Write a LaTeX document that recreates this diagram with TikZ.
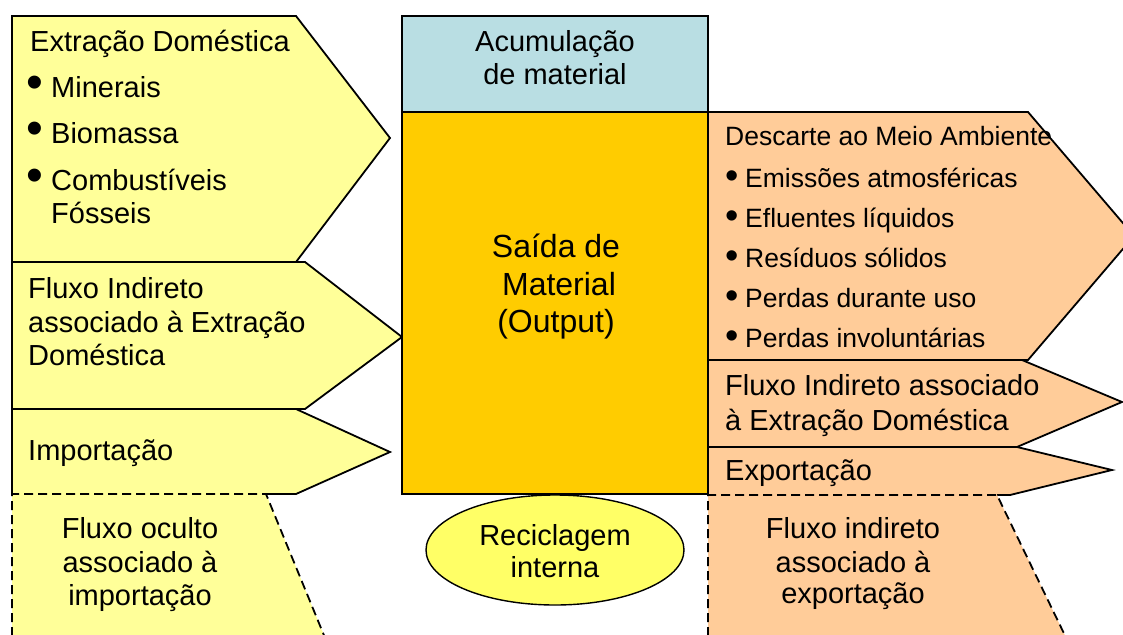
\documentclass[tikz,border=0pt]{standalone}
\usepackage{fontspec}
\setmainfont{Liberation Sans}
\usetikzlibrary{shapes.geometric}
\definecolor{ylw}{RGB}{255,255,153}
\definecolor{peach}{RGB}{255,204,153}
\definecolor{gold}{RGB}{255,204,0}
\definecolor{accblue}{RGB}{185,222,227}
\definecolor{ellfill}{RGB}{255,255,102}
\begin{document}
\begin{tikzpicture}[x=1pt,y=-1pt,line join=miter,
  edge/.style={draw=black,line width=1.8pt},
  dashedge/.style={draw=black,line width=1.8pt,dash pattern=on 9pt off 5pt},
  tx/.style={inner sep=0pt,anchor=base west,font=\fontsize{29}{33}\selectfont},
  txc/.style={inner sep=0pt,anchor=base,font=\fontsize{29}{33}\selectfont},
  txs/.style={inner sep=0pt,anchor=base west,font=\fontsize{26.5}{30}\selectfont},
  txb/.style={inner sep=0pt,anchor=base,font=\fontsize{32}{36}\selectfont},
  bulL/.style={inner sep=0pt,anchor=base west,font=\fontsize{48}{48}\selectfont},
  bulR/.style={inner sep=0pt,anchor=base west,font=\fontsize{38}{38}\selectfont}]
\useasboundingbox (0,0) rectangle (1123,634);
\clip (0,0) rectangle (1123,634);
% ---------- left column ----------
\path[fill=ylw,edge] (12,16) -- (296,16) -- (390,138) -- (296,262) -- (12,262) -- cycle;
\path[fill=ylw,edge] (12,262) -- (305,262) -- (402,337) -- (305,409) -- (12,409) -- cycle;
\path[fill=ylw] (12,409) -- (296,409) -- (390,452) -- (296,494) -- (12,494) -- cycle;
\path[edge] (266,494) -- (296,494) -- (390,452) -- (296,409) -- (12,409) -- (12,494);
\path[fill=ylw] (12,494) -- (266,494) -- (330,650) -- (12,650) -- cycle;
\path[dashedge] (12,650) -- (12,494) -- (266,494) -- (330,650);
% ---------- centre ----------
\path[fill=accblue,edge] (402,16) rectangle (708,112);
\path[fill=gold,edge] (402,112) rectangle (708,494);
\node[draw=black,line width=1.4pt,fill=ellfill,ellipse,minimum width=258pt,minimum height=110pt,inner sep=0pt] (recic) at (555,550) {};
% ---------- right column ----------
\path[fill=peach,edge] (708,112) -- (1028,112) -- (1134,236) -- (1028,360) -- (708,360) -- cycle;
\path[fill=peach,edge] (708,360) -- (1022,360) -- (1122,402) -- (1017,447) -- (708,447) -- cycle;
\path[fill=peach] (708,447) -- (1017,447) -- (1112,470) -- (1010,495) -- (708,495) -- cycle;
\path[edge] (997,495) -- (1010,495) -- (1112,470) -- (1017,447) -- (708,447) -- (708,495);
\path[fill=peach] (708,495) -- (997,495) -- (1072,650) -- (708,650) -- cycle;
\path[dashedge] (708,650) -- (708,495) -- (997,495) -- (1072,650);
% ---------- texts left ----------
\node[tx] (ed) at (30,52) {Extração Doméstica};
\node[bulL] (b1) at (26,98) {•};
\node[tx] (ed1) at (51,97) {Minerais};
\node[bulL] (b2) at (26,144) {•};
\node[tx] (ed2) at (51,143) {Biomassa};
\node[bulL] (b3) at (26,191) {•};
\node[tx] (ed3) at (51,190) {Combustíveis};
\node[tx] (ed4) at (51,223) {Fósseis};
\node[tx] (fi1) at (28,298) {Fluxo Indireto};
\node[tx] (fi2) at (28,332) {associado à Extração};
\node[tx] (fi3) at (28,365) {Doméstica};
\node[tx] (imp) at (28,460) {Importação};
\node[txc] (fo1) at (140,538) {Fluxo oculto};
\node[txc] (fo2) at (140,572) {associado à};
\node[txc] (fo3) at (140,605) {importação};
% ---------- texts centre ----------
\node[txc] (ac1) at (555,52) {Acumulação};
\node[txc] (ac2) at (555,84) {de material};
\node[txb] (sm1) at (556,257) {Saída de};
\node[txb] (sm2) at (559,295) {Material};
\node[txb] (sm3) at (556,332) {(Output)};
\node[txc] (rc1) at (555,545) {Reciclagem};
\node[txc] (rc2) at (555,577) {interna};
% ---------- texts right ----------
\node[txs] (dm) at (725,145) {Descarte ao Meio Ambiente};
\node[bulR] (r1) at (725,188) {•};
\node[txs] (dm1) at (745,187) {Emissões atmosféricas};
\node[bulR] (r2) at (725,228) {•};
\node[txs] (dm2) at (745,227) {Efluentes líquidos};
\node[bulR] (r3) at (725,268) {•};
\node[txs] (dm3) at (745,267) {Resíduos sólidos};
\node[bulR] (r4) at (725,308) {•};
\node[txs] (dm4) at (745,307) {Perdas durante uso};
\node[bulR] (r5) at (725,348) {•};
\node[txs] (dm5) at (745,347) {Perdas involuntárias};
\node[tx] (ri1) at (725,395) {Fluxo Indireto associado};
\node[tx] (ri2) at (725,430) {à Extração Doméstica};
\node[tx] (exp) at (725,480) {Exportação};
\node[txc] (fe1) at (853,538) {Fluxo indireto};
\node[txc] (fe2) at (853,572) {associado à};
\node[txc] (fe3) at (853,603) {exportação};
\end{tikzpicture}
\end{document}
